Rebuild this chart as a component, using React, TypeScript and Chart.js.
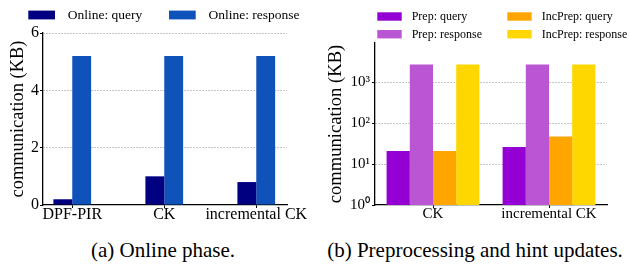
import React, { useEffect, useRef } from "react";
import { Chart, registerables } from "chart.js";

Chart.register(...registerables);

// ---- Data: (a) Online phase ----
const onlineCategories = ["DPF-PIR", "CK", "incremental CK"];
const onlineQuery = [0.2, 1.0, 0.8];
const onlineResponse = [5.2, 5.2, 5.2];
const onlineTicks = [0, 2, 4, 6];

// ---- Data: (b) Preprocessing and hint updates ----
const prepCategories = ["CK", "incremental CK"];
const prepQuery = [21, 26];
const prepResponse = [2700, 2700];
const incPrepQuery = [21, 47];
const incPrepResponse = [2700, 2700];
const logTickValues = [1, 10, 100, 1000];
const logTickLabels = ["10⁰", "10¹", "10²", "10³"];

const captionA = "(a) Online phase.";
const captionB = "(b) Preprocessing and hint updates.";

const SERIF = "'Liberation Serif', 'Times New Roman', Times, serif";

// Matplotlib-like legend laid out in a grid (column-major)
const gridLegend = {
  id: "gridLegend",
  afterDraw(chart: any, _args: any, opts: any) {
    const { ctx } = chart;
    ctx.save();
    ctx.font = `${opts.fontSize}px ${SERIF}`;
    ctx.textBaseline = "middle";
    ctx.textAlign = "left";
    chart.data.datasets.forEach((ds: any, i: number) => {
      const [c, r] = opts.slots[i];
      const x = opts.columns[c];
      const y = opts.rows[r];
      ctx.fillStyle = ds.backgroundColor;
      ctx.fillRect(x, y - opts.boxHeight / 2, opts.boxWidth, opts.boxHeight);
      ctx.fillStyle = "#000";
      ctx.fillText(ds.label, x + opts.boxWidth + opts.gap, y + 0.5);
    });
    ctx.restore();
  },
};

export default function App() {
  const leftRef = useRef<HTMLCanvasElement>(null);
  const rightRef = useRef<HTMLCanvasElement>(null);

  useEffect(() => {
    const gridColor = "#b4b4b4";

    const left = new Chart(leftRef.current as HTMLCanvasElement, {
      type: "bar",
      data: {
        datasets: [
          {
            label: "Online: query",
            data: onlineQuery.map((y, i) => ({ x: i, y })),
            backgroundColor: "#000080",
          },
          {
            label: "Online: response",
            data: onlineResponse.map((y, i) => ({ x: i, y })),
            backgroundColor: "#0F52BA",
          },
        ],
      },
      options: {
        animation: false,
        responsive: false,
        maintainAspectRatio: false,
        layout: { padding: { left: 0, right: 33, top: 33, bottom: 0 } },
        datasets: { bar: { categoryPercentage: 0.41, barPercentage: 1 } },
        plugins: {
          legend: { display: false },
          tooltip: { enabled: false },
          gridLegend: {
            fontSize: 13.5,
            columns: [28.3, 169],
            rows: [15],
            slots: [
              [0, 0],
              [1, 0],
            ],
            boxWidth: 26.7,
            boxHeight: 8.8,
            gap: 12.7,
          },
        } as any,
        scales: {
          x: {
            type: "linear",
            offset: false,
            min: -0.318,
            max: 2.334,
            afterBuildTicks: (s: any) => {
              s.ticks = onlineCategories.map((_, i) => ({ value: i }));
            },
            afterFit: (s: any) => {
              s.height = 27;
            },
            ticks: {
              callback: (v: any) => onlineCategories[v],
              autoSkip: false,
              maxRotation: 0,
              padding: -1,
              color: "#000",
              font: { family: SERIF, size: 16, lineHeight: 1 },
            },
            grid: { drawOnChartArea: false, offset: false, tickLength: 3, tickColor: "#000", tickWidth: 1 },
            border: { color: "#000", width: 1.3 },
          },
          y: {
            type: "linear",
            min: 0,
            max: 6,
            afterBuildTicks: (s: any) => {
              s.ticks = onlineTicks.map((v) => ({ value: v }));
            },
            afterFit: (s: any) => {
              s.width = 43;
            },
            ticks: {
              padding: 1,
              color: "#000",
              font: { family: SERIF, size: 16 },
            },
            grid: {
              color: (c: any) => (c.tick && c.tick.value === 0 ? "rgba(0,0,0,0)" : gridColor),
              lineWidth: 1,
              tickLength: 3,
              tickColor: "#000",
              tickWidth: 1,
              tickBorderDash: [],
            },
            border: { color: "#000", width: 1.3, dash: [1.5, 1.5] },
            title: {
              display: true,
              text: "communication (KB)",
              color: "#000",
              font: { family: SERIF, size: 18.4, lineHeight: 1.2 },
              padding: { top: 7, bottom: 0 },
            },
          },
        },
      } as any,
      plugins: [gridLegend as any],
    });

    const right = new Chart(rightRef.current as HTMLCanvasElement, {
      type: "bar",
      data: {
        labels: prepCategories,
        datasets: [
          { label: "Prep: query", data: prepQuery, backgroundColor: "#9400D3" },
          { label: "Prep: response", data: prepResponse, backgroundColor: "#BA55D3" },
          { label: "IncPrep: query", data: incPrepQuery, backgroundColor: "#FFA500" },
          { label: "IncPrep: response", data: incPrepResponse, backgroundColor: "#FFD700" },
        ],
      },
      options: {
        animation: false,
        responsive: false,
        maintainAspectRatio: false,
        layout: { padding: { left: 0, right: 23, top: 43, bottom: 0 } },
        datasets: { bar: { categoryPercentage: 0.8, barPercentage: 1 } },
        plugins: {
          legend: { display: false },
          tooltip: { enabled: false },
          gridLegend: {
            fontSize: 12,
            columns: [57.3, 187.3],
            rows: [16.5, 34.2],
            slots: [
              [0, 0],
              [0, 1],
              [1, 0],
              [1, 1],
            ],
            boxWidth: 24.4,
            boxHeight: 8.4,
            gap: 10,
          },
        } as any,
        scales: {
          x: {
            type: "category",
            offset: true,
            afterFit: (s: any) => {
              s.height = 27;
            },
            ticks: {
              autoSkip: false,
              maxRotation: 0,
              padding: -1,
              color: "#000",
              font: { family: SERIF, size: 15, lineHeight: 1 },
            },
            grid: { drawOnChartArea: false, offset: false, tickLength: 3, tickColor: "#000", tickWidth: 1 },
            border: { color: "#000", width: 1.3 },
          },
          y: {
            type: "logarithmic",
            min: 1,
            max: 9100,
            afterBuildTicks: (s: any) => {
              s.ticks = logTickValues.map((v) => ({ value: v }));
            },
            afterFit: (s: any) => {
              s.width = 55;
            },
            ticks: {
              callback: (v: any) => logTickLabels[logTickValues.indexOf(v)],
              padding: 2,
              color: "#000",
              font: { family: SERIF, size: 15 },
            },
            grid: {
              color: (c: any) => (c.tick && c.tick.value === 1 ? "rgba(0,0,0,0)" : gridColor),
              lineWidth: 1,
              tickLength: 3,
              tickColor: "#000",
              tickWidth: 1,
              tickBorderDash: [],
            },
            border: { color: "#000", width: 1.3, dash: [1.5, 1.5] },
            title: {
              display: true,
              text: "communication (KB)",
              color: "#000",
              font: { family: SERIF, size: 18.6, lineHeight: 1.2 },
              padding: { top: 5, bottom: 0 },
            },
          },
        },
      } as any,
      plugins: [gridLegend as any],
    });

    return () => {
      left.destroy();
      right.destroy();
    };
  }, []);

  const captionStyle: React.CSSProperties = {
    position: "absolute",
    top: 240,
    fontFamily: SERIF,
    fontSize: 21,
    lineHeight: "21px",
    color: "#000",
    textAlign: "center",
    whiteSpace: "nowrap",
  };

  return (
    <div
      style={{
        position: "absolute",
        left: 0,
        top: 0,
        width: 630,
        height: 269,
        background: "#fff",
        overflow: "hidden",
      }}
    >
      <canvas
        ref={leftRef}
        width={320}
        height={232}
        style={{ position: "absolute", left: 0, top: 0, width: 320, height: 232, display: "block" }}
      />
      <canvas
        ref={rightRef}
        width={310}
        height={232}
        style={{ position: "absolute", left: 320, top: 0, width: 310, height: 232, display: "block" }}
      />
      <div style={{ ...captionStyle, left: 63, width: 200 }}>{captionA}</div>
      <div style={{ ...captionStyle, left: 320, width: 310 }}>{captionB}</div>
    </div>
  );
}
